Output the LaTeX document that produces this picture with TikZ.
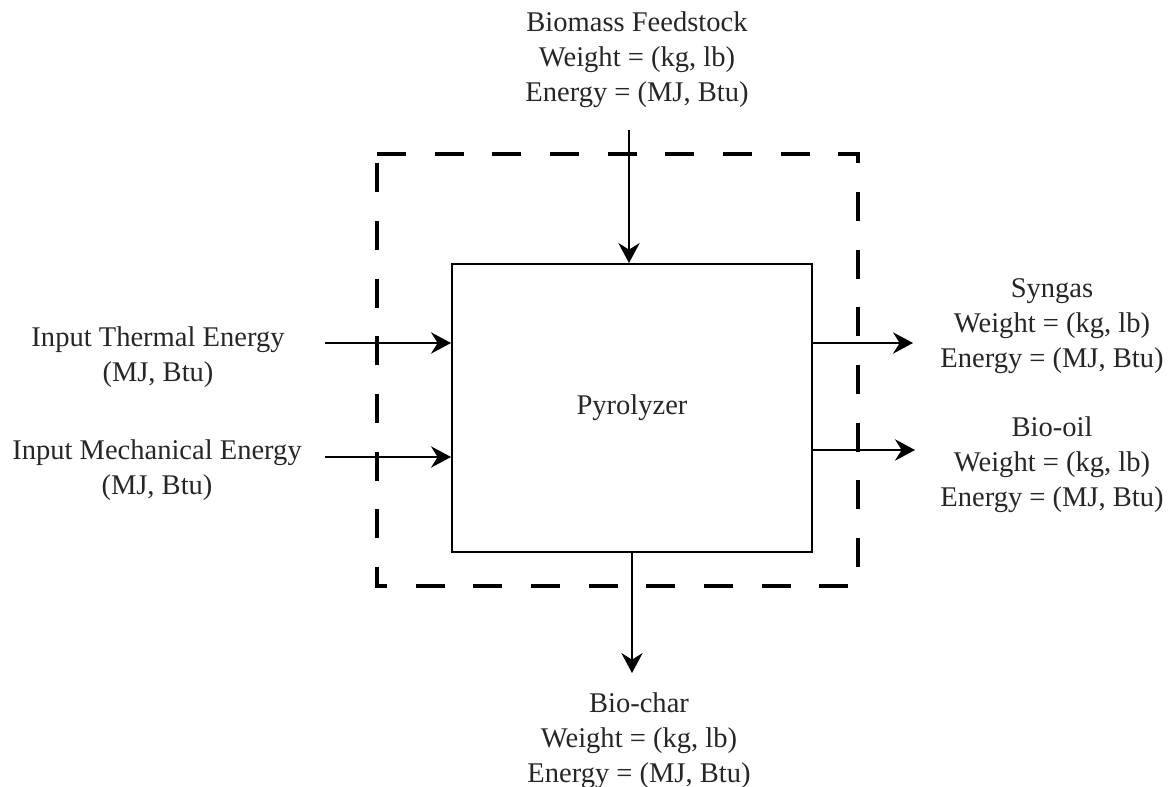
\documentclass[tikz,border=0pt]{standalone}
\usepackage{fontspec}
\setmainfont{Liberation Serif}
\usetikzlibrary{arrows.meta}
\begin{document}
\begin{tikzpicture}[x=0.75pt,y=-0.75pt,
  lbl/.style={align=center,inner sep=0pt,font=\fontsize{21.4pt}{26.25pt}\selectfont,text=black!85},
  arr/.style={line width=1.5pt,-{Stealth[length=15pt,width=16pt,inset=5pt]}},
  boundary/.style={line width=2.5pt,dash pattern=on 21.75pt off 21.5pt},
  procbox/.style={draw,line width=1.5pt,minimum width=270pt,minimum height=216pt,inner sep=0pt,font=\fontsize{21.4pt}{26.25pt}\selectfont,text=black!85}]
\useasboundingbox (0,0) rectangle (1168,787);
% system boundary
\coordinate (btl) at (377,154);
\coordinate (btr) at (858,154);
\coordinate (bbr) at (858,586);
\coordinate (bbl) at (377,586);
\draw[boundary] (btl) -- (btr) -- (bbr) -- (bbl) -- cycle;
% process box
\node[procbox] (pyro) at (632,408) {Pyrolyzer};
% labels
\node[lbl] (biomass) at (637,60) {Biomass Feedstock\\Weight = (kg, lb)\\Energy = (MJ, Btu)};
\node[lbl] (syngas) at (1052,326) {Syngas\\Weight = (kg, lb)\\Energy = (MJ, Btu)};
\node[lbl] (biooil) at (1052,465) {Bio-oil\\Weight = (kg, lb)\\Energy = (MJ, Btu)};
\node[lbl] (biochar) at (639,741) {Bio-char\\Weight = (kg, lb)\\Energy = (MJ, Btu)};
\node[lbl] (thermal) at (158,357) {Input Thermal Energy\\(MJ, Btu)};
\node[lbl] (mech) at (157,470) {Input Mechanical Energy\\(MJ, Btu)};
% arrow ends
\coordinate (bmstart) at (629,130);
\coordinate (bcend) at (632,673);
\coordinate (sgend) at (913,343);
\coordinate (boend) at (915,450);
\coordinate (thstart) at (325,343);
\coordinate (mestart) at (325,457);
% connectors
\draw[arr] (bmstart) -- (bmstart |- pyro.north);
\draw[arr] (pyro.south) -- (bcend);
\draw[arr] (pyro.east |- sgend) -- (sgend);
\draw[arr] (pyro.east |- boend) -- (boend);
\draw[arr] (thstart) -- (pyro.west |- thstart);
\draw[arr] (mestart) -- (pyro.west |- mestart);
\end{tikzpicture}
\end{document}
